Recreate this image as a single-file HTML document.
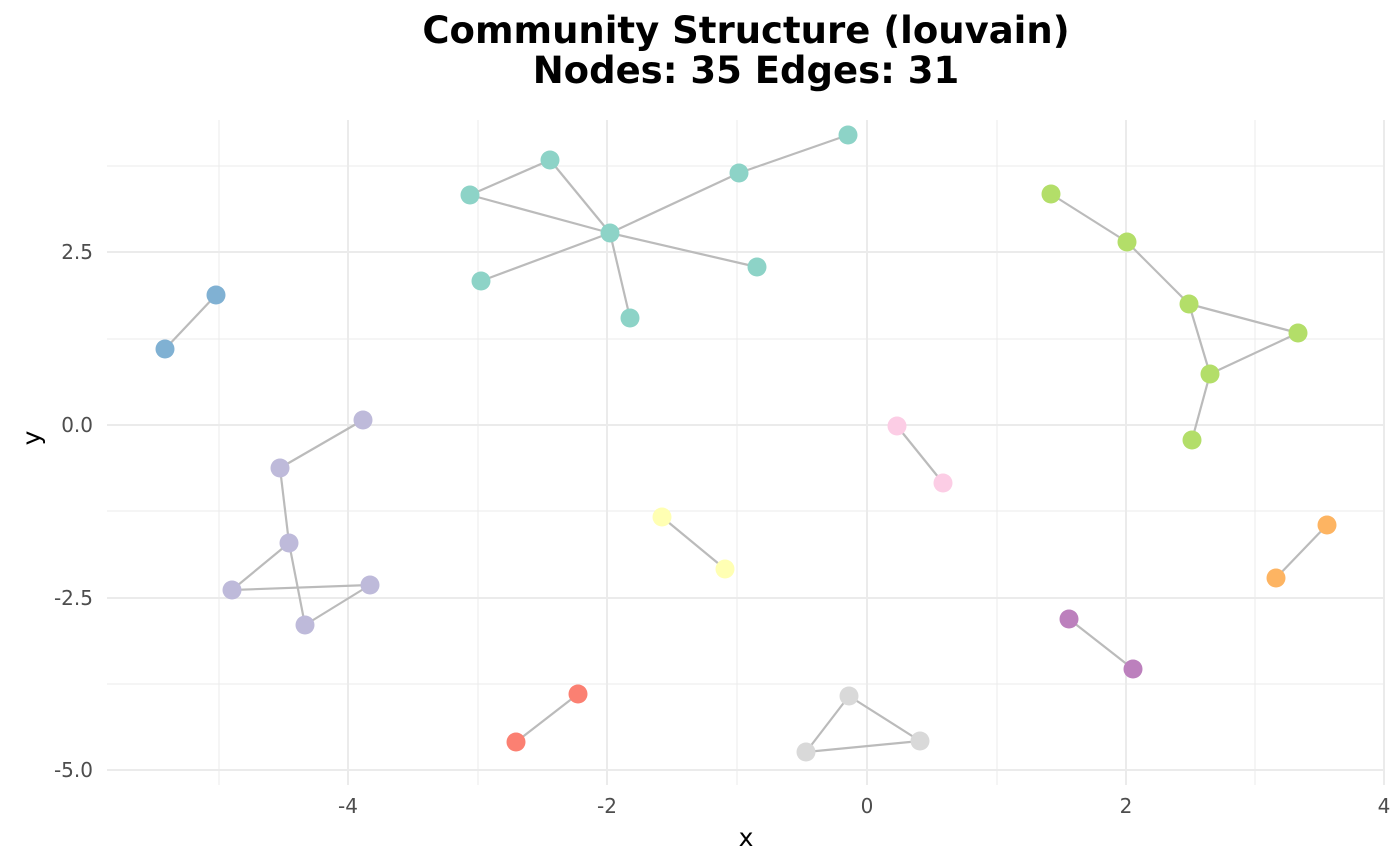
<!DOCTYPE html>
<html><head><style>body{margin:0;background:#fff}svg{display:block}</style></head><body>
<svg width="1400" height="866" xmlns="http://www.w3.org/2000/svg" font-family="DejaVu Sans, Liberation Sans, sans-serif">
<rect width="1400" height="866" fill="#fff"/>
<g stroke="#ebebeb" stroke-width="1">
<line x1="219" y1="120" x2="219" y2="785"/><line x1="478" y1="120" x2="478" y2="785"/><line x1="737" y1="120" x2="737" y2="785"/><line x1="997" y1="120" x2="997" y2="785"/><line x1="1255" y1="120" x2="1255" y2="785"/>
<line x1="107" y1="166" x2="1384" y2="166"/><line x1="107" y1="339" x2="1384" y2="339"/><line x1="107" y1="511" x2="1384" y2="511"/><line x1="107" y1="684" x2="1384" y2="684"/>
</g>
<g stroke="#ebebeb" stroke-width="2">
<line x1="348" y1="120" x2="348" y2="785"/><line x1="607" y1="120" x2="607" y2="785"/><line x1="867" y1="120" x2="867" y2="785"/><line x1="1126" y1="120" x2="1126" y2="785"/><line x1="1384" y1="120" x2="1384" y2="785"/>
<line x1="107" y1="252" x2="1384" y2="252"/><line x1="107" y1="425" x2="1384" y2="425"/><line x1="107" y1="598" x2="1384" y2="598"/><line x1="107" y1="770" x2="1384" y2="770"/>
</g>
<g stroke="#bbbbbb" stroke-width="2.2">
<line x1="470" y1="195" x2="550" y2="160"/><line x1="550" y1="160" x2="610" y2="233"/><line x1="470" y1="195" x2="610" y2="233"/><line x1="610" y1="233" x2="739" y2="173"/><line x1="739" y1="173" x2="848" y2="135"/><line x1="610" y1="233" x2="481" y2="281"/><line x1="610" y1="233" x2="757" y2="267"/><line x1="610" y1="233" x2="630" y2="318"/>
<line x1="165" y1="349" x2="216" y2="295"/>
<line x1="363" y1="420" x2="280" y2="468"/><line x1="280" y1="468" x2="289" y2="543"/><line x1="289" y1="543" x2="232" y2="590"/><line x1="289" y1="543" x2="305" y2="625"/><line x1="232" y1="590" x2="370" y2="585"/><line x1="305" y1="625" x2="370" y2="585"/>
<line x1="1051" y1="194" x2="1127" y2="242"/><line x1="1127" y1="242" x2="1189" y2="304"/><line x1="1189" y1="304" x2="1298" y2="333"/><line x1="1298" y1="333" x2="1210" y2="374"/><line x1="1189" y1="304" x2="1210" y2="374"/><line x1="1210" y1="374" x2="1192" y2="440"/>
<line x1="897" y1="426" x2="943" y2="483"/><line x1="662" y1="517" x2="725" y2="569"/><line x1="1327" y1="525" x2="1276" y2="578"/><line x1="1069" y1="619" x2="1133" y2="669"/><line x1="578" y1="694" x2="516" y2="742"/>
<line x1="849" y1="696" x2="806" y2="752"/><line x1="849" y1="696" x2="920" y2="741"/><line x1="806" y1="752" x2="920" y2="741"/>
</g>
<g fill="#8dd3c7"><circle cx="848" cy="135" r="9.5"/><circle cx="739" cy="173" r="9.5"/><circle cx="550" cy="160" r="9.5"/><circle cx="470" cy="195" r="9.5"/><circle cx="610" cy="233" r="9.5"/><circle cx="481" cy="281" r="9.5"/><circle cx="757" cy="267" r="9.5"/><circle cx="630" cy="318" r="9.5"/></g>
<g fill="#80b1d3"><circle cx="165" cy="349" r="9.5"/><circle cx="216" cy="295" r="9.5"/></g>
<g fill="#bebada"><circle cx="363" cy="420" r="9.5"/><circle cx="280" cy="468" r="9.5"/><circle cx="289" cy="543" r="9.5"/><circle cx="232" cy="590" r="9.5"/><circle cx="370" cy="585" r="9.5"/><circle cx="305" cy="625" r="9.5"/></g>
<g fill="#b3de69"><circle cx="1051" cy="194" r="9.5"/><circle cx="1127" cy="242" r="9.5"/><circle cx="1189" cy="304" r="9.5"/><circle cx="1298" cy="333" r="9.5"/><circle cx="1210" cy="374" r="9.5"/><circle cx="1192" cy="440" r="9.5"/></g>
<g fill="#fccde5"><circle cx="897" cy="426" r="9.5"/><circle cx="943" cy="483" r="9.5"/></g>
<g fill="#ffffb3"><circle cx="662" cy="517" r="9.5"/><circle cx="725" cy="569" r="9.5"/></g>
<g fill="#fdb462"><circle cx="1327" cy="525" r="9.5"/><circle cx="1276" cy="578" r="9.5"/></g>
<g fill="#bc80bd"><circle cx="1069" cy="619" r="9.5"/><circle cx="1133" cy="669" r="9.5"/></g>
<g fill="#fb8072"><circle cx="578" cy="694" r="9.5"/><circle cx="516" cy="742" r="9.5"/></g>
<g fill="#d9d9d9"><circle cx="849" cy="696" r="9.5"/><circle cx="806" cy="752" r="9.5"/><circle cx="920" cy="741" r="9.5"/></g>
<g fill="#4d4d4d" font-size="20" text-anchor="middle">
<text x="348" y="813">-4</text><text x="607" y="813">-2</text><text x="867" y="813">0</text><text x="1126" y="813">2</text><text x="1384" y="813">4</text>
</g>
<g fill="#4d4d4d" font-size="20" text-anchor="end">
<text x="93" y="259">2.5</text><text x="93" y="432">0.0</text><text x="93" y="605">-2.5</text><text x="93" y="777">-5.0</text>
</g>
<text x="746" y="846" font-size="25" text-anchor="middle">x</text>
<text x="0" y="0" font-size="25" text-anchor="middle" transform="translate(40,438) rotate(-90)">y</text>
<g font-size="37" font-weight="bold" text-anchor="middle">
<text x="746" y="43">Community Structure (louvain)</text><text x="746" y="83">Nodes: 35 Edges: 31</text>
</g>
</svg>
</body></html>
